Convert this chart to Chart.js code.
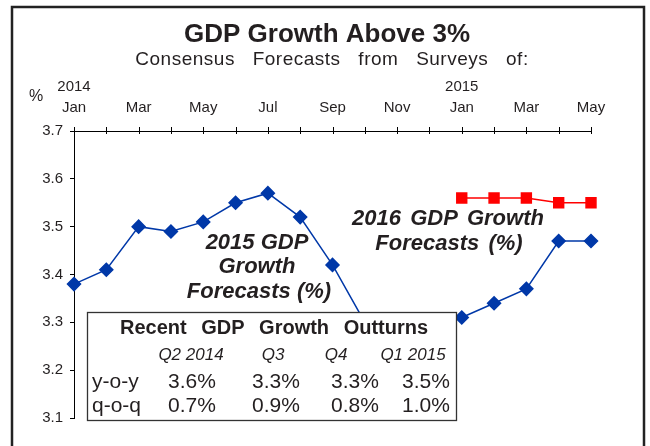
<!DOCTYPE html>
<html>
<head>
<meta charset="utf-8">
<script src="https://cdn.jsdelivr.net/npm/chart.js@4.4.1/dist/chart.umd.min.js"></script>
<style>
  body { margin: 0; background: #fff; }
  canvas { display: block; }
</style>
</head>
<body>
<canvas id="gdp-chart" width="650" height="446"></canvas>
<script>
// survey months, Jan 2014 .. May 2015
const months = ['Jan', 'Feb', 'Mar', 'Apr', 'May', 'Jun', 'Jul', 'Aug', 'Sep', 'Oct', 'Nov', 'Dec',
                'Jan', 'Feb', 'Mar', 'Apr', 'May'];
const years = ['2014', '', '', '', '', '', '', '', '', '', '', '', '2015', '', '', '', ''];

// consensus forecasts (%)
const gdp2015 = [3.38, 3.41, 3.50, 3.49, 3.51, 3.55, 3.57, 3.52, 3.42, 3.30, 3.28, 3.29,
                 3.31, 3.34, 3.37, 3.47, 3.47];
const gdp2016 = [null, null, null, null, null, null, null, null, null, null, null, null,
                 3.56, 3.56, 3.56, 3.55, 3.55];

// outturns table
const quarters = ['Q2 2014', 'Q3', 'Q4', 'Q1 2015'];
const yoy = [3.6, 3.3, 3.3, 3.5];
const qoq = [0.7, 0.9, 0.8, 1.0];

const FONT = "'Liberation Sans', Arial, Helvetica, sans-serif";
const INK = '#231f20';

const decor = {
    id: 'decor',
    afterDraw(chart) {
        const ctx = chart.ctx;
        const x = chart.scales.x;
        const area = chart.chartArea;
        ctx.save();

        // frame
        ctx.strokeStyle = '#222';
        ctx.lineWidth = 2.5;
        ctx.beginPath();
        ctx.moveTo(12, 446);
        ctx.lineTo(12, 7);
        ctx.lineTo(644, 7);
        ctx.lineTo(644, 446);
        ctx.stroke();

        // ticks crossing the top axis
        ctx.strokeStyle = '#000';
        ctx.lineWidth = 1;
        for (let i = 0; i < months.length; i++) {
            let px = Math.round(x.getPixelForValue(i)) + 0.5;
            ctx.beginPath();
            ctx.moveTo(px, area.top - 4);
            ctx.lineTo(px, area.top + 3);
            ctx.stroke();
        }

        ctx.fillStyle = INK;
        ctx.textAlign = 'center';
        ctx.textBaseline = 'alphabetic';

        ctx.font = 'bold 26px ' + FONT;
        ctx.fillText('GDP Growth Above 3%', 327, 42);

        ctx.font = '19px ' + FONT;
        ctx.letterSpacing = '0.5px';
        ctx.wordSpacing = '12px';
        ctx.fillText('Consensus Forecasts from Surveys of:', 332, 65);
        ctx.letterSpacing = '0px';
        ctx.wordSpacing = '0px';

        ctx.font = '16px ' + FONT;
        ctx.fillText('%', 36, 101);

        // series labels
        ctx.font = 'italic bold 22px ' + FONT;
        ctx.fillText('2015 GDP', 257, 249);
        ctx.fillText('Growth', 257, 273);
        ctx.fillText('Forecasts (%)', 259, 298);
        ctx.wordSpacing = '3px';
        ctx.fillText('2016 GDP Growth', 448, 225);
        ctx.fillText('Forecasts (%)', 449, 250);
        ctx.wordSpacing = '0px';

        // outturns box
        ctx.fillStyle = '#fff';
        ctx.fillRect(87, 312, 370, 109);
        ctx.strokeStyle = '#333';
        ctx.lineWidth = 1.3;
        ctx.strokeRect(87.5, 312.5, 369, 108);

        ctx.fillStyle = INK;
        ctx.font = 'bold 20px ' + FONT;
        ctx.wordSpacing = '9px';
        ctx.fillText('Recent GDP Growth Outturns', 274, 334);
        ctx.wordSpacing = '0px';

        const headX = [191, 273, 336, 413];
        const valX = [192, 276, 355, 426];
        ctx.font = 'italic 17px ' + FONT;
        quarters.forEach((q, i) => ctx.fillText(q, headX[i], 360));

        ctx.font = '21px ' + FONT;
        yoy.forEach((v, i) => ctx.fillText(v.toFixed(1) + '%', valX[i], 388));
        qoq.forEach((v, i) => ctx.fillText(v.toFixed(1) + '%', valX[i], 412));
        ctx.textAlign = 'left';
        ctx.fillText('y-o-y', 92, 388);
        ctx.fillText('q-o-q', 92, 412);

        ctx.restore();
    }
};

const ctx = document.querySelector('#gdp-chart').getContext('2d');

new Chart(ctx, {
    type: 'line',
    data: {
        labels: months,
        datasets: [{
            label: '2015 GDP Growth Forecasts (%)',
            data: gdp2015,
            borderColor: '#0038a8',
            backgroundColor: '#0038a8',
            borderWidth: 1.5,
            pointStyle: 'rectRot',
            pointRadius: 6.5,
            tension: 0
        }, {
            label: '2016 GDP Growth Forecasts (%)',
            data: gdp2016,
            borderColor: '#ff0000',
            backgroundColor: '#ff0000',
            borderWidth: 1.5,
            pointStyle: 'rect',
            pointRadius: 7,
            tension: 0
        }]
    },
    options: {
        responsive: false,
        animation: false,
        layout: {
            padding: { left: 0, right: 59, top: 0, bottom: 28 }
        },
        plugins: {
            legend: { display: false },
            tooltip: { enabled: false }
        },
        scales: {
            x: {
                position: 'top',
                offset: false,
                afterFit: (scale) => { scale.height = 131; },
                grid: { drawOnChartArea: false, drawTicks: false },
                border: { color: '#000', width: 1 },
                ticks: {
                    autoSkip: false,
                    maxRotation: 0,
                    padding: 13,
                    color: INK,
                    font: { family: FONT, size: 15, lineHeight: 1.37 },
                    callback: function (value, index) {
                        if (index % 2 !== 0) return '';
                        return years[index] ? [years[index], months[index]] : months[index];
                    }
                }
            },
            y: {
                min: 3.1,
                max: 3.7,
                afterFit: (scale) => { scale.width = 74; },
                grid: { drawOnChartArea: false, tickLength: 4, color: '#000' },
                border: { color: '#000', width: 1 },
                ticks: {
                    stepSize: 0.1,
                    padding: 7,
                    color: INK,
                    font: { family: FONT, size: 15 },
                    callback: (v) => v.toFixed(1)
                }
            }
        }
    },
    plugins: [decor]
});
</script>
</body>
</html>
